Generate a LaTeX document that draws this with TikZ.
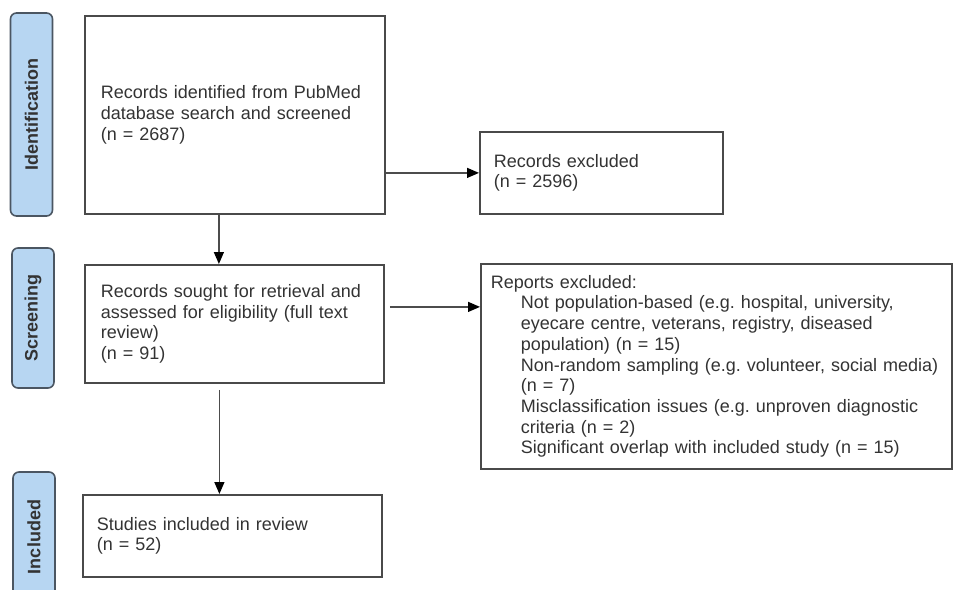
\documentclass[tikz,border=0pt]{standalone}
\usepackage{fontspec}
\setmainfont{Liberation Sans}
\usetikzlibrary{arrows.meta}
\definecolor{stagefill}{HTML}{B7D6F2}
\definecolor{stageline}{HTML}{4B5662}
\definecolor{boxline}{HTML}{4A4A4A}

\begin{document}
\begin{tikzpicture}[
    x=1pt, y=-1pt,
    every node/.style={inner sep=0pt, text=black!80},
    StageShape/.style={rectangle, rounded corners=6pt, line width=1.6pt,
        draw=stageline, fill=stagefill, rotate=90, minimum height=42pt,
        font=\fontsize{18}{20}\selectfont\bfseries},
    BoxShape/.style={rectangle, line width=1.8pt, draw=boxline,
        anchor=north west, align=left, inner xsep=16pt,
        font=\fontsize{18}{20.7}\selectfont\frenchspacing},
    FlowArrow/.style={line width=1.3pt, draw=black!70,
        -{Triangle[length=12pt,width=10pt,color=black]}}
]
\clip (0,0) rectangle (953,589);
\node (identification) [StageShape, minimum width=203pt] at (31.5,114.5) {Identification};
\node (screening) [StageShape, minimum width=140pt] at (33,318) {Screening};
\node (includedStage) [StageShape, minimum width=130pt] at (34,537) {Included};

\node (identified) [BoxShape, minimum width=300pt, minimum height=198pt,
    text width=268pt] at (84,15) {Records identified from PubMed\\
    database search and screened\\(n = 2687)};
\node (excluded) [BoxShape, minimum width=243pt, minimum height=82pt,
    inner xsep=14pt, text width=215pt] at (479,131) {Records excluded\\(n = 2596)};
\node (sought) [BoxShape, minimum width=299pt, minimum height=118pt,
    text width=267pt] at (84,264) {Records sought for retrieval and\\
    assessed for eligibility (full text\\review)\\(n = 91)};
\node (reports) [BoxShape, minimum width=471pt, minimum height=205pt,
    inner xsep=10pt, text width=451pt] at (480,263) {Reports excluded:\\
    \hspace*{30pt}Not population-based (e.g. hospital, university,\\
    \hspace*{30pt}eyecare centre, veterans, registry, diseased\\
    \hspace*{30pt}population) (n = 15)\\
    \hspace*{30pt}Non-random sampling (e.g. volunteer, social media)\\
    \hspace*{30pt}(n = 7)\\
    \hspace*{30pt}Misclassification issues (e.g. unproven diagnostic\\
    \hspace*{30pt}criteria (n = 2)\\
    \hspace*{30pt}Significant overlap with included study (n = 15)};
\node (included) [BoxShape, minimum width=299pt, minimum height=82pt,
    inner xsep=14pt, text width=271pt] at (82,494) {Studies included in review\\(n = 52)};

\coordinate (identOut) at ([xshift=-16pt]identified.south);
\coordinate (screenOut) at ([shift={(5,-17)}]sought.east);
\coordinate (reviewOut) at ([shift={(-15,6)}]sought.south);
\draw[FlowArrow] (identOut) -- (identOut |- sought.north);
\draw[FlowArrow] (identified.east |- excluded.west) -- (excluded.west);
\draw[FlowArrow] (screenOut) -- (screenOut -| reports.west);
\draw[FlowArrow] (reviewOut) -- (reviewOut |- included.north);
\end{tikzpicture}
\end{document}
